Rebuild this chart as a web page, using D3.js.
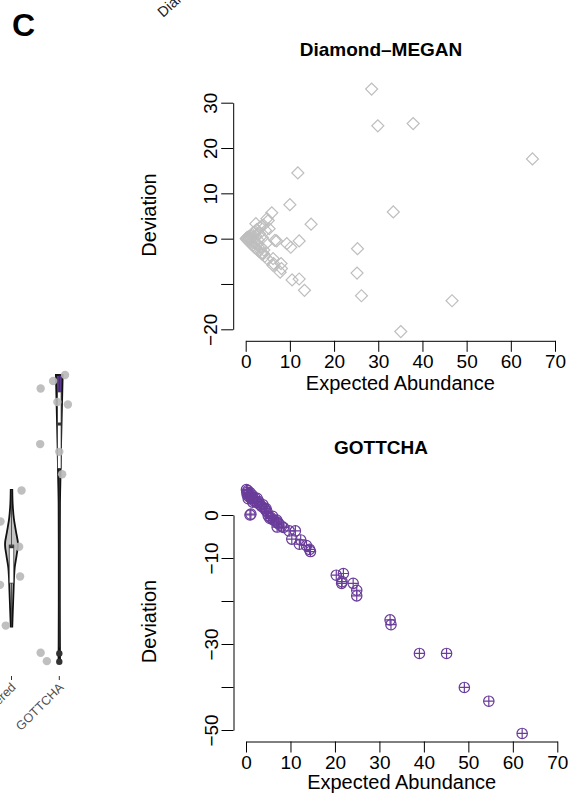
<!DOCTYPE html>
<html>
<head>
<meta charset="utf-8">
<script src="https://cdn.jsdelivr.net/npm/d3@7"></script>
<style>
  body { margin: 0; background: #fff; }
  svg { display: block; }
  text { font-family: "Liberation Sans", Arial, Helvetica, sans-serif; }
</style>
</head>
<body>
<svg id="fig" width="569" height="799"></svg>
<script>
// ---------- Scatter: Diamond–MEGAN (expected abundance vs deviation) ----------
const diamondExpected = [
  28.5, 29.9, 37.9, 64.9, 11.8, 10.0, 33.4, 14.8, 5.9, 5.1, 4.8, 2.3, 7.0, 9.3, 10.2, 12.1,
  25.3, 25.2, 26.2, 46.7, 35.1, 13.3, 12.1, 10.5, 8.0, 7.8, 6.3, 6.2, 4.0, 6.6, 6.2, 8.1, 3.6,
  0.1, 0.2, 0.3, 0.4, 0.5, 0.6, 0.7, 0.8, 0.9, 1.0, 1.1, 1.2, 1.3, 1.4, 1.5, 1.6, 1.7, 1.8,
  1.9, 2.0, 2.1, 2.2, 2.3, 2.4, 2.5, 2.6, 2.8, 3.0, 3.1, 3.3, 3.4, 3.6, 3.8, 4.0, 4.1, 4.3,
  4.5, 4.7, 5.0, 5.3
];
const diamondDeviation = [
  33.0, 24.9, 25.4, 17.6, 14.5, 7.5, 5.9, 3.2, 5.7, 4.0, 4.4, 3.3, -0.5, -1.1, -1.9, -0.5,
  -2.2, -7.6, -12.6, -13.7, -20.5, -11.4, -8.9, -9.1, -5.5, -7.4, -5.5, -4.4, -3.3, -0.4, -5.9, -6.6, -3.3,
  0.0, 0.1, -0.2, 0.3, -0.4, 0.2, -0.6, 0.5, -0.1, -0.9, 0.7, 0.1, -1.2, 1.0, -0.5, -1.5, 0.4, 1.3,
  -1.8, -0.8, 1.6, -2.1, 0.6, -1.2, 2.0, -2.4, -0.3, -2.8, 1.1, 2.6, -1.8, -3.3, 0.2, 3.0, -2.5, -3.9,
  1.8, -1.0, -4.6, 2.2
];

// ---------- Scatter: GOTTCHA ----------
const gottchaExpected = [
  62.1, 54.6, 49.1, 45.1, 39.0, 32.4, 32.6, 24.9, 24.9, 24.1, 21.9, 20.3, 21.6, 21.5,
  14.5, 14.3, 13.6, 12.0, 12.3, 10.3, 9.7, 11.1, 7.3, 6.9, 5.4, 4.7, 4.5, 2.5, 0.9, 1.1,
  5.0, 5.6, 6.2, 6.8, 7.4, 8.0, 8.4, 6.0, 7.0,
  0.1, 0.2, 0.3, 0.4, 0.6, 0.7, 0.9, 1.0, 1.2, 1.4, 1.6, 1.8, 2.0, 2.3, 2.6, 2.9, 3.2, 3.5,
  3.8, 4.1, 4.4, 0.5, 1.5
];
const gottchaDeviation = [
  -50.8, -43.3, -40.1, -32.2, -32.2, -24.4, -25.5, -18.8, -17.5, -15.9, -13.6, -14.0, -15.5, -15.9,
  -8.5, -8.0, -7.1, -6.8, -5.8, -5.6, -3.7, -3.7, -1.9, -1.2, -0.8, 0.8, 1.5, 3.9, 0.0, 0.2,
  -0.2, -0.6, -1.2, -1.6, -2.1, -2.6, -2.9, -0.3, -2.8,
  5.9, 5.2, 4.6, 5.7, 5.0, 4.2, 5.2, 4.5, 3.8, 4.6, 3.9, 3.3, 4.0, 3.2, 2.8, 3.1, 2.4, 2.0,
  2.4, 1.6, 1.2, 3.8, 3.0
];

// Axis ticks and the labels R kept (overlapping ones are dropped)
const abundanceTicks = [0, 10, 20, 30, 40, 50, 60, 70];
const diamondDevTicks = [-20, -10, 0, 10, 20, 30];
const diamondDevLabels = [-20, 0, 10, 20, 30];
const gottchaDevTicks = [-50, -40, -30, -20, -10, 0];
const gottchaDevLabels = [-50, -30, -10, 0];

// ---------- Violin panel (partly visible on the left) ----------
const violinGroups = ["Diamond\u2212MEGAN filtered", "GOTTCHA"];
const violinFills = ["#c4c4c4", "#5b3a8e"];
// kernel density profile per group: evaluation points and relative density
const filteredDensityAt = [12.2, 15, 20, 25, 29, 33, 37, 41, 45, 50, 55, 59.9];
const filteredDensity = [0.12, 0.16, 0.24, 0.32, 0.38, 0.5, 0.78, 1.0, 0.72, 0.36, 0.18, 0.12];
const gottchaDensityAt = [0, 5, 20, 40, 55, 65, 75, 85, 95, 100];
const gottchaDensity = [0.22, 0.2, 0.16, 0.16, 0.2, 0.36, 0.5, 0.7, 0.9, 1.0];
// box statistics [lower whisker, q1, median, q3, upper whisker]
const filteredBox = [12.2, 27.4, 40.1, 40.7, 59.9];
const gottchaBox = [5.0, 67.4, 82.9, 94.1, 100];
const gottchaOutliers = [2.9, 0.0];
// jittered observations: value and horizontal jitter (fraction of group spacing)
const filteredScores = [59.7, 48.9, 40.1, 29.7, 26.8, 12.6];
const filteredJitter = [0.21, -0.23, 0.16, 0.18, -0.24, -0.12];
const gottchaScores = [95.3, 97.9, 100, 90.6, 89.7, 75.9, 73.2, 65.4, 3.1, 0.2];
const gottchaJitter = [-0.39, -0.13, 0.12, -0.04, 0.18, -0.40, 0.0, 0.06, -0.39, -0.26];

const svg = d3.select("#fig");
const purple = "#6a3d9a";
const grey = "#bebebe";
const FS = 19;     // tick labels and titles
const FL = 20;     // axis titles

// ---------- helpers ----------
function drawScatterAxes(g, xs, ys, yTicks, yLabels) {
  const xAxis = g.append("g")
    .attr("transform", `translate(0,${ys.range()[0] + 11.5})`)
    .call(d3.axisBottom(xs).tickValues(abundanceTicks).tickSize(11).tickSizeOuter(0).tickPadding(3));
  xAxis.selectAll("text").attr("font-size", FS).attr("fill", "#000")
    .attr("font-family", "Liberation Sans, Arial, sans-serif");
  const yAxis = g.append("g")
    .attr("transform", `translate(${xs.range()[0] - 12.5},0)`)
    .call(d3.axisLeft(ys).tickValues(yTicks).tickSize(12).tickSizeOuter(0)
      .tickFormat(d => yLabels.includes(d) ? (d < 0 ? "\u2212" + Math.abs(d) : String(d)) : ""));
  yAxis.selectAll("text")
    .attr("x", null).attr("dy", null)
    .attr("text-anchor", "middle")
    .attr("transform", "translate(-16,0) rotate(-90)")
    .attr("font-size", FS).attr("fill", "#000")
    .attr("font-family", "Liberation Sans, Arial, sans-serif");
  g.selectAll(".domain, .tick line").attr("stroke", "#000").attr("stroke-width", 1);
}

function drawTitles(title, xs, ys, titleY, xlabY) {
  svg.append("text").attr("x", 381).attr("y", titleY)
    .attr("text-anchor", "middle").attr("font-weight", "bold").attr("font-size", FS)
    .text(title);
  svg.append("text").attr("x", (xs.range()[0] + xs.range()[1]) / 2).attr("y", xlabY)
    .attr("text-anchor", "middle").attr("font-size", FL).text("Expected Abundance");
  const cy = (ys.range()[0] + ys.range()[1]) / 2 - 1;
  svg.append("text").attr("transform", `translate(156,${cy}) rotate(-90)`)
    .attr("text-anchor", "middle").attr("font-size", FL).text("Deviation");
}

// ---------- Diamond–MEGAN scatter ----------
const xTop = d3.scaleLinear().domain([0, 70]).range([245.7, 555]);
const yTop = d3.scaleLinear().domain([-20, 30]).range([329.3, 102.7]);
const gTop = svg.append("g");
drawScatterAxes(gTop, xTop, yTop, diamondDevTicks, diamondDevLabels);
drawTitles("Diamond\u2013MEGAN", xTop, yTop, 56, 390);

const diamondSym = d3.symbol().type(d3.symbolSquare).size(72);
svg.append("g").selectAll("path")
  .data(diamondExpected.map((x, i) => [x, diamondDeviation[i]]))
  .join("path")
  .attr("d", diamondSym)
  .attr("transform", d => `translate(${xTop(d[0])},${yTop(d[1])}) rotate(45)`)
  .attr("fill", "none").attr("stroke", grey).attr("stroke-width", 1.2);

// ---------- GOTTCHA scatter ----------
const xBot = d3.scaleLinear().domain([0, 70]).range([246, 557.3]);
const yBot = d3.scaleLinear().domain([-50, 0]).range([730, 515]);
const gBot = svg.append("g");
drawScatterAxes(gBot, xBot, yBot, gottchaDevTicks, gottchaDevLabels);
drawTitles("GOTTCHA", xBot, yBot, 454, 789);

const r = 5.2;
const gp = svg.append("g").attr("fill", "none").attr("stroke", purple).attr("stroke-width", 1.2);
gottchaExpected.forEach((x, i) => {
  const cx = xBot(x), cy = yBot(gottchaDeviation[i]);
  gp.append("circle").attr("cx", cx).attr("cy", cy).attr("r", r);
  gp.append("path").attr("d", `M${cx - r},${cy}H${cx + r}M${cx},${cy - r}V${cy + r}`);
});

// ---------- Violin panel ----------
const vy = d3.scaleLinear().domain([0, 100]).range([661.7, 375]);
const vx = d3.scalePoint().domain(violinGroups).range([11.5, 59.3]);
const step = vx(violinGroups[1]) - vx(violinGroups[0]);
const halfWidth = [6.5, 3.4];

const violins = [
  { at: filteredDensityAt, dens: filteredDensity, box: filteredBox, pts: filteredScores, jit: filteredJitter, out: [] },
  { at: gottchaDensityAt, dens: gottchaDensity, box: gottchaBox, pts: gottchaScores, jit: gottchaJitter, out: gottchaOutliers }
];
const vg = svg.append("g");

violins.forEach((v, k) => {
  const cx = vx(violinGroups[k]);
  const w = d3.scaleLinear().domain([0, 1]).range([0, halfWidth[k]]);
  const area = d3.area()
    .curve(d3.curveMonotoneY)
    .y(d => vy(d[0]))
    .x0(d => cx - w(d[1]))
    .x1(d => cx + w(d[1]));
  vg.append("path")
    .datum(v.at.map((a, i) => [a, v.dens[i]]))
    .attr("d", area)
    .attr("fill", violinFills[k]).attr("stroke", "#111").attr("stroke-width", 1.8);
  // whiskers
  vg.append("line").attr("x1", cx).attr("x2", cx)
    .attr("y1", vy(v.box[0])).attr("y2", vy(v.box[4]))
    .attr("stroke", "#333").attr("stroke-width", 0.8);
  // box
  const bw = k === 0 ? 4.6 : 3.6;
  vg.append("rect").attr("x", cx - bw / 2).attr("width", bw)
    .attr("y", vy(v.box[3])).attr("height", vy(v.box[1]) - vy(v.box[3]))
    .attr("fill", "#fff").attr("stroke", "#333").attr("stroke-width", 0.8);
  // median
  vg.append("rect").attr("x", cx - bw / 2).attr("width", bw)
    .attr("y", vy(v.box[2]) - 1.5).attr("height", 3)
    .attr("fill", "#333");
  // outliers
  vg.selectAll(null).data(v.out).join("circle")
    .attr("cx", cx).attr("cy", d => vy(d)).attr("r", 3.2).attr("fill", "#333");
  // jittered observations
  vg.selectAll(null).data(v.pts.map((p, i) => [p, v.jit[i]])).join("circle")
    .attr("cx", d => cx + d[1] * step).attr("cy", d => vy(d[0]))
    .attr("r", 4.2).attr("fill", "#b8b8b8").attr("fill-opacity", 0.9);
  // category tick + rotated label
  vg.append("line").attr("x1", cx).attr("x2", cx).attr("y1", 676).attr("y2", 680)
    .attr("stroke", "#333").attr("stroke-width", 1);
  vg.append("text")
    .attr("transform", `translate(${cx + 5},${688}) rotate(-45)`)
    .attr("text-anchor", "end").attr("font-size", 12.5).attr("fill", "#4d4d4d")
    .text(violinGroups[k]);
});

// label of an upper panel's category axis, clipped at the page top
svg.append("text")
  .attr("transform", "translate(163,18) rotate(-42)")
  .attr("font-size", 14.5).attr("fill", "#222")
  .text("Diamond\u2212MEGAN");

// panel letter
svg.append("text").attr("x", 12).attr("y", 36)
  .attr("font-size", 32).attr("font-weight", "bold").text("C");
</script>
</body>
</html>
